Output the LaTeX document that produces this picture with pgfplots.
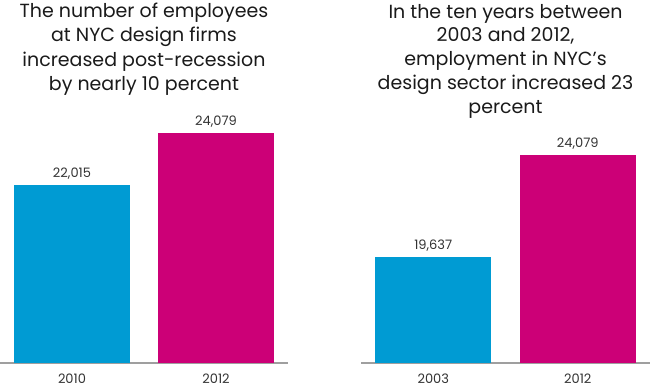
\documentclass[border=0pt]{standalone}
\usepackage{fontspec}
\setmainfont{Poppins}
\usepackage{pgfplots}
\pgfplotsset{compat=1.18}
\definecolor{nycblue}{HTML}{009BD3}
\definecolor{nycmag}{HTML}{CC0077}
\definecolor{txt}{HTML}{333333}
\definecolor{ttl}{HTML}{1A1A1A}
\begin{document}
\begin{tikzpicture}[x=1bp,y=1bp]
\useasboundingbox (0,0) rectangle (650,387);
\pgfplotsset{
  panel/.style={
    scale only axis, anchor=south west, ybar, bar width=116bp, bar shift=0pt,
    xmin=-0.5, xmax=1.5, ymin=15000, ymax=26000, xtick={0,1},
    axis y line=none, axis x line=bottom,
    x axis line style={-, draw=gray!75, line width=1.2bp},
    xtick style={draw=none}, ytick=\empty, clip=false,
    xticklabel style={font=\fontsize{13bp}{15bp}\selectfont, text=txt, anchor=base, inner sep=0pt, yshift=-18bp},
    nodes near coords,
    nodes near coords style={font=\fontsize{13bp}{15bp}\selectfont, text=txt, anchor=base, yshift=7.7bp},
    /pgf/number format/1000 sep={,},
    /pgf/number format/assume math mode=true
  }
}
% left panel
\begin{axis}[panel, at={(0bp,24bp)}, width=288bp, height=279bp, xticklabels={2010,2012}]
\addplot[fill=nycblue, draw=none] coordinates {(0,22015)};
\addplot[fill=nycmag, draw=none] coordinates {(1,24079)};
\end{axis}
% right panel
\begin{axis}[panel, at={(361bp,24bp)}, width=289bp, height=252bp, xticklabels={2003,2012}]
\addplot[fill=nycblue, draw=none] coordinates {(0,19637)};
\addplot[fill=nycmag, draw=none] coordinates {(1,24079)};
\end{axis}
\node[anchor=base, align=center, text=ttl, font=\fontsize{19bp}{24.5bp}\selectfont] at (144,296.3)
  {The number of employees\\at NYC design firms\\increased post-recession\\by nearly 10 percent};
\node[anchor=base, align=center, text=ttl, font=\fontsize{19bp}{23.7bp}\selectfont] at (505.5,274)
  {In the ten years between\\2003 and 2012,\\employment in NYC’s\\design sector increased 23\\percent};
\end{tikzpicture}
\end{document}
